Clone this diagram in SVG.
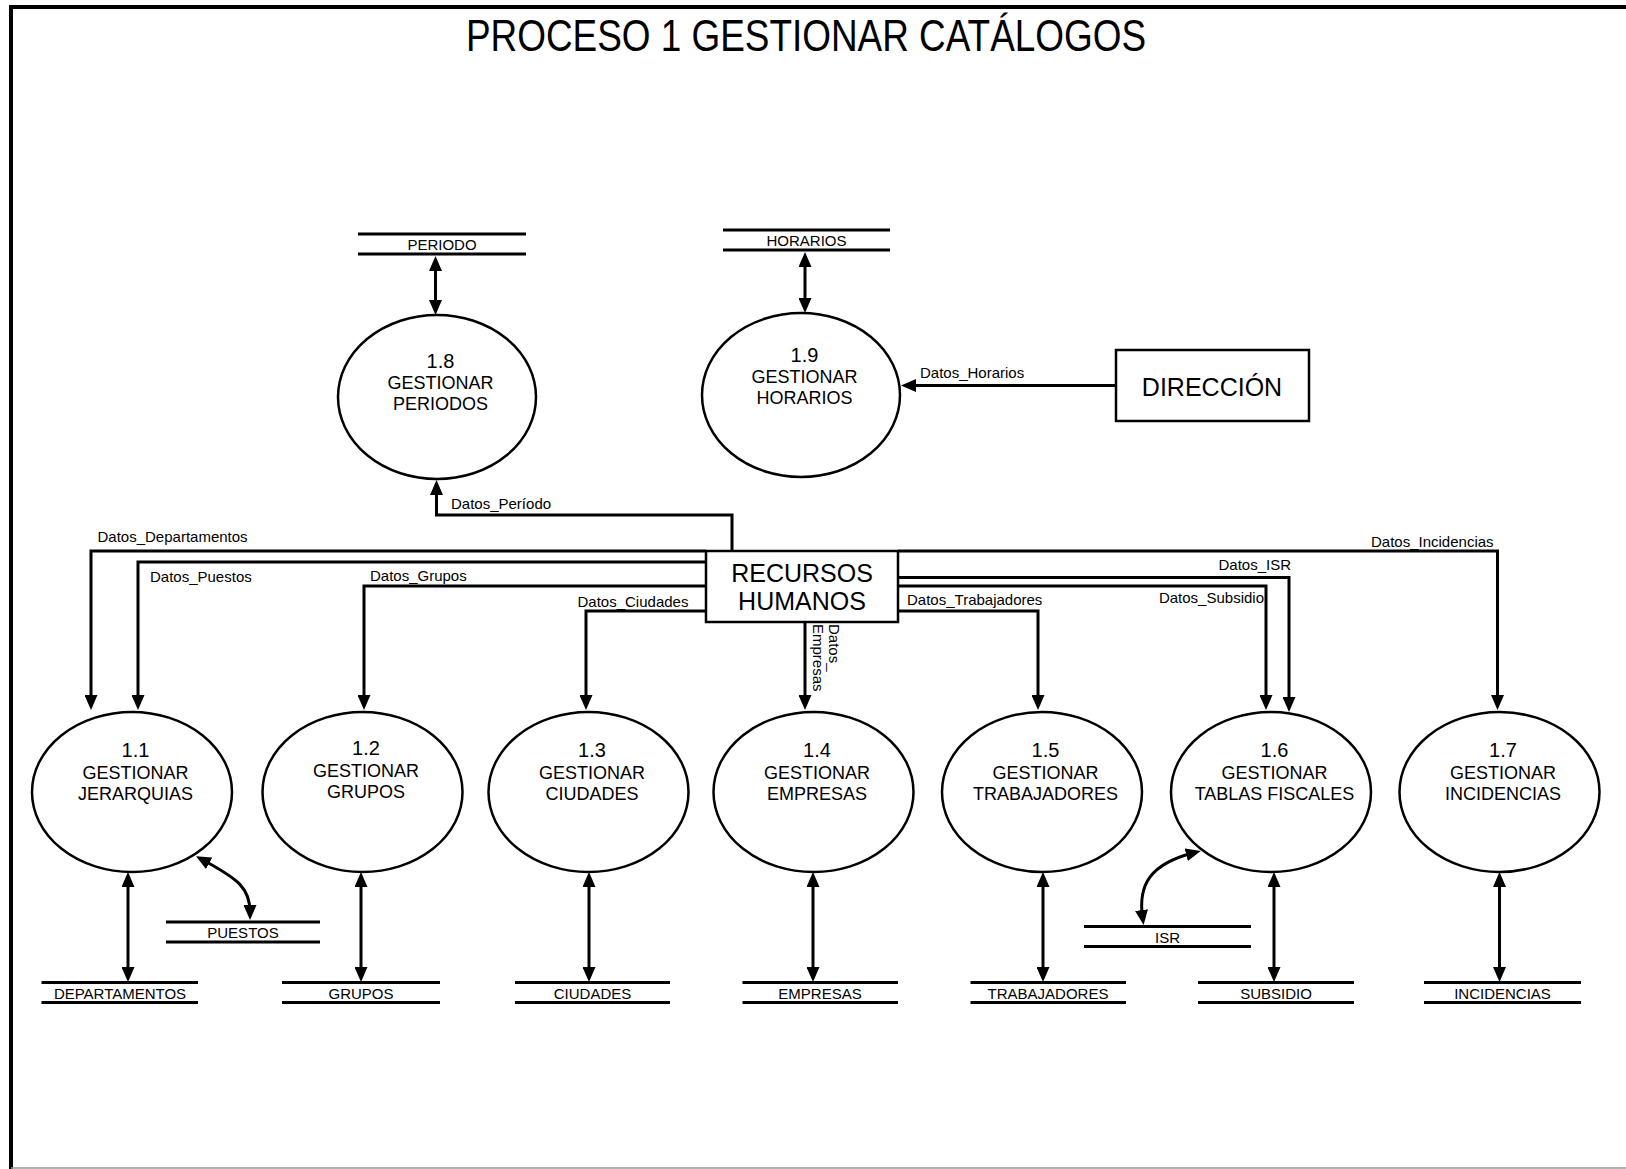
<svg xmlns="http://www.w3.org/2000/svg" width="1626" height="1169" viewBox="0 0 1626 1169">
  <style>
    text { font-family: "Liberation Sans", Arial, sans-serif; fill: #000; }
    .title { font-size: 44px; }
    .proc { fill: #fff; stroke: #000; stroke-width: 2.5; }
    .num { font-size: 20px; text-anchor: middle; }
    .pname { font-size: 18px; text-anchor: middle; }
    .store line { stroke: #000; stroke-width: 3; }
    .store text { font-size: 15px; text-anchor: middle; }
    .ext rect { fill: #fff; stroke: #000; stroke-width: 2.5; }
    .ext text { font-size: 25px; text-anchor: middle; }
    .flow { fill: none; stroke: #000; stroke-width: 3; }
    .both { marker-start: url(#ah); marker-end: url(#ah); }
    .one { marker-end: url(#ah); }
    .lbl { font-size: 15px; }
  </style>
  <defs>
    <marker id="ah" viewBox="0 0 15 13" refX="7" refY="6.5" markerWidth="15" markerHeight="13" markerUnits="userSpaceOnUse" orient="auto-start-reverse">
      <path d="M0,0 L15,6.5 L0,13 z" fill="#000"/>
    </marker>
  </defs>

  <rect width="1626" height="1169" fill="#fff"/>

  <!-- page frame -->
  <g id="frame">
    <path d="M11,1169 V7 H1626" fill="none" stroke="#000" stroke-width="4"/>
    <line x1="11" y1="1168" x2="1626" y2="1168" stroke="#999" stroke-width="1.5"/>
  </g>

  <text id="title" class="title" x="466" y="51" textLength="680" lengthAdjust="spacingAndGlyphs">PROCESO 1 GESTIONAR CATÁLOGOS</text>

  <!-- data flows -->
  <g id="connectors">
    <!-- store <-> process -->
    <path class="flow both" d="M435.5,264 V307"/>
    <path class="flow both" d="M805,260 V305"/>
    <path class="flow both" d="M128,880 V974"/>
    <path class="flow both" d="M361,880 V974"/>
    <path class="flow both" d="M589,880 V974"/>
    <path class="flow both" d="M813,880 V974"/>
    <path class="flow both" d="M1043,880 V974"/>
    <path class="flow both" d="M1274,880 V974"/>
    <path class="flow both" d="M1499.5,880 V974"/>
    <path class="flow both" d="M203,860 C238,879 250,888 250,912"/>
    <path class="flow both" d="M1142.5,917 C1138,885 1150,864 1193,853"/>

    <!-- RECURSOS HUMANOS -> processes -->
    <path class="flow one" d="M732,551 V515 H436.5 V488"/>
    <path class="flow one" d="M706,551 H91 V702"/>
    <path class="flow one" d="M706,562 H138 V702"/>
    <path class="flow one" d="M706,586 H364 V702"/>
    <path class="flow one" d="M706,611 H586 V702"/>
    <path class="flow one" d="M805,622 V702"/>
    <path class="flow one" d="M898,611 H1038 V702"/>
    <path class="flow one" d="M898,577.5 H1289 V704"/>
    <path class="flow one" d="M898,586 H1266 V702"/>
    <path class="flow one" d="M898,551 H1497.5 V702"/>

    <!-- DIRECCIÓN -> 1.9 -->
    <path class="flow one" d="M1116,385.5 H909"/>

    <text class="lbl" x="451" y="509">Datos_Período</text>
    <text class="lbl" x="97.5" y="541.5">Datos_Departamentos</text>
    <text class="lbl" x="150" y="581.5">Datos_Puestos</text>
    <text class="lbl" x="370" y="581">Datos_Grupos</text>
    <text class="lbl" x="577.5" y="606.5">Datos_Ciudades</text>
    <text class="lbl" x="907" y="605">Datos_Trabajadores</text>
    <text class="lbl" x="1218.5" y="570">Datos_ISR</text>
    <text class="lbl" x="1264" y="603" text-anchor="end">Datos_Subsidio</text>
    <text class="lbl" x="1371" y="546.5">Datos_Incidencias</text>
    <text class="lbl" x="920" y="377.5">Datos_Horarios</text>
    <text class="lbl" transform="translate(829,624) rotate(90)">Datos_</text>
    <text class="lbl" transform="translate(813,624) rotate(90)">Empresas</text>
  </g>

  <!-- external entities -->
  <g id="recursos-humanos" class="ext">
    <rect x="706" y="551" width="192" height="71"/>
    <text x="802" y="581.5">RECURSOS</text>
    <text x="802" y="610">HUMANOS</text>
  </g>
  <g id="direccion" class="ext">
    <rect x="1116" y="350" width="193" height="71"/>
    <text x="1212" y="396">DIRECCIÓN</text>
  </g>

  <!-- processes -->
  <g id="p1-8">
    <ellipse class="proc" cx="437" cy="397" rx="99" ry="82"/>
    <text class="num" x="440.5" y="368">1.8</text>
    <text class="pname" x="440.5" y="389">GESTIONAR</text>
    <text class="pname" x="440.5" y="409.5">PERIODOS</text>
  </g>
  <g id="p1-9">
    <ellipse class="proc" cx="801" cy="395" rx="99" ry="82"/>
    <text class="num" x="804.5" y="362">1.9</text>
    <text class="pname" x="804.5" y="383">GESTIONAR</text>
    <text class="pname" x="804.5" y="403.5">HORARIOS</text>
  </g>
  <g id="p1-1">
    <ellipse class="proc" cx="132" cy="792" rx="100" ry="80"/>
    <text class="num" x="135.5" y="757">1.1</text>
    <text class="pname" x="135.5" y="779">GESTIONAR</text>
    <text class="pname" x="135.5" y="800">JERARQUIAS</text>
  </g>
  <g id="p1-2">
    <ellipse class="proc" cx="362.5" cy="792" rx="100" ry="80"/>
    <text class="num" x="366" y="755">1.2</text>
    <text class="pname" x="366" y="777">GESTIONAR</text>
    <text class="pname" x="366" y="798">GRUPOS</text>
  </g>
  <g id="p1-3">
    <ellipse class="proc" cx="588.5" cy="792" rx="100" ry="80"/>
    <text class="num" x="592" y="757">1.3</text>
    <text class="pname" x="592" y="779">GESTIONAR</text>
    <text class="pname" x="592" y="800">CIUDADES</text>
  </g>
  <g id="p1-4">
    <ellipse class="proc" cx="813.5" cy="792" rx="100" ry="80"/>
    <text class="num" x="817" y="757">1.4</text>
    <text class="pname" x="817" y="779">GESTIONAR</text>
    <text class="pname" x="817" y="800">EMPRESAS</text>
  </g>
  <g id="p1-5">
    <ellipse class="proc" cx="1042" cy="792" rx="100" ry="80"/>
    <text class="num" x="1045.5" y="757">1.5</text>
    <text class="pname" x="1045.5" y="779">GESTIONAR</text>
    <text class="pname" x="1045.5" y="800">TRABAJADORES</text>
  </g>
  <g id="p1-6">
    <ellipse class="proc" cx="1271" cy="792" rx="100" ry="80"/>
    <text class="num" x="1274.5" y="757">1.6</text>
    <text class="pname" x="1274.5" y="779">GESTIONAR</text>
    <text class="pname" x="1274.5" y="800">TABLAS FISCALES</text>
  </g>
  <g id="p1-7">
    <ellipse class="proc" cx="1499.5" cy="792" rx="100" ry="80"/>
    <text class="num" x="1503" y="757">1.7</text>
    <text class="pname" x="1503" y="779">GESTIONAR</text>
    <text class="pname" x="1503" y="800">INCIDENCIAS</text>
  </g>

  <!-- data stores -->
  <g id="s-periodo" class="store">
    <line x1="358" y1="234" x2="526" y2="234"/><line x1="358" y1="254" x2="526" y2="254"/>
    <text x="442" y="250">PERIODO</text>
  </g>
  <g id="s-horarios" class="store">
    <line x1="723" y1="230" x2="890" y2="230"/><line x1="723" y1="250" x2="890" y2="250"/>
    <text x="806.5" y="246">HORARIOS</text>
  </g>
  <g id="s-puestos" class="store">
    <line x1="166" y1="922" x2="320" y2="922"/><line x1="166" y1="942" x2="320" y2="942"/>
    <text x="243" y="938">PUESTOS</text>
  </g>
  <g id="s-isr" class="store">
    <line x1="1084" y1="926.5" x2="1251" y2="926.5"/><line x1="1084" y1="946.5" x2="1251" y2="946.5"/>
    <text x="1167.5" y="942.5">ISR</text>
  </g>
  <g id="s-departamentos" class="store">
    <line x1="41.5" y1="982.5" x2="198" y2="982.5"/><line x1="41.5" y1="1002.5" x2="198" y2="1002.5"/>
    <text x="120" y="998.5">DEPARTAMENTOS</text>
  </g>
  <g id="s-grupos" class="store">
    <line x1="282" y1="982.5" x2="440" y2="982.5"/><line x1="282" y1="1002.5" x2="440" y2="1002.5"/>
    <text x="361" y="998.5">GRUPOS</text>
  </g>
  <g id="s-ciudades" class="store">
    <line x1="515" y1="982.5" x2="670" y2="982.5"/><line x1="515" y1="1002.5" x2="670" y2="1002.5"/>
    <text x="592.5" y="998.5">CIUDADES</text>
  </g>
  <g id="s-empresas" class="store">
    <line x1="742.5" y1="982.5" x2="898" y2="982.5"/><line x1="742.5" y1="1002.5" x2="898" y2="1002.5"/>
    <text x="820" y="998.5">EMPRESAS</text>
  </g>
  <g id="s-trabajadores" class="store">
    <line x1="970.5" y1="982.5" x2="1126" y2="982.5"/><line x1="970.5" y1="1002.5" x2="1126" y2="1002.5"/>
    <text x="1048" y="998.5">TRABAJADORES</text>
  </g>
  <g id="s-subsidio" class="store">
    <line x1="1198" y1="982.5" x2="1354" y2="982.5"/><line x1="1198" y1="1002.5" x2="1354" y2="1002.5"/>
    <text x="1276" y="998.5">SUBSIDIO</text>
  </g>
  <g id="s-incidencias" class="store">
    <line x1="1424" y1="982.5" x2="1581" y2="982.5"/><line x1="1424" y1="1002.5" x2="1581" y2="1002.5"/>
    <text x="1502.5" y="998.5">INCIDENCIAS</text>
  </g>
</svg>
